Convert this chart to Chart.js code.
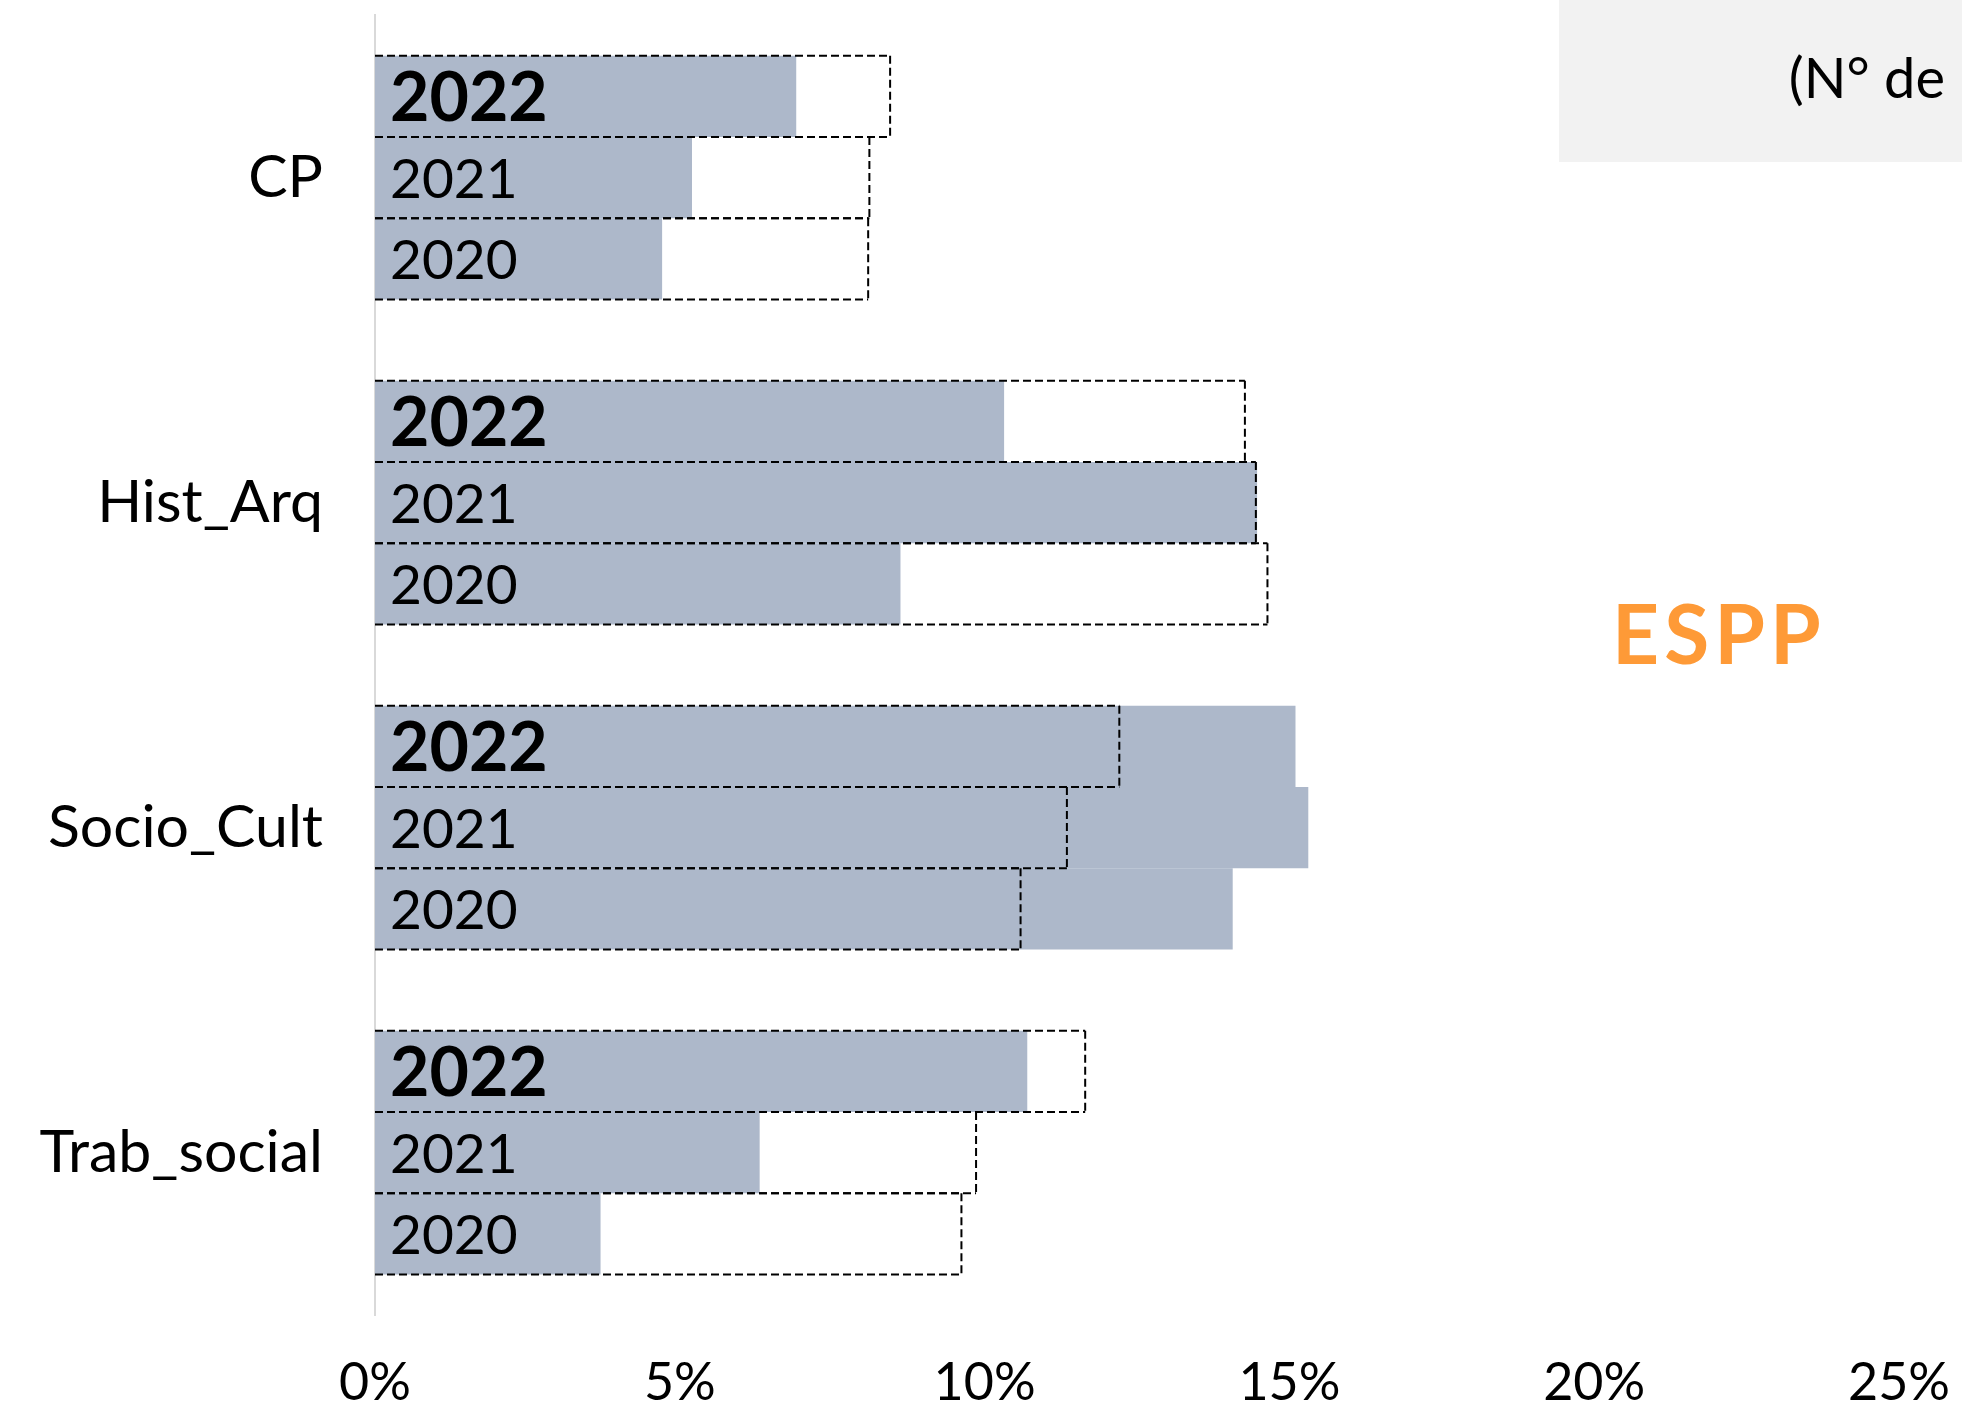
<!DOCTYPE html>
<html>
<head>
<meta charset="utf-8">
<title>ESPP</title>
<script src="https://cdn.jsdelivr.net/npm/chart.js@4/dist/chart.umd.min.js"></script>
<style>
  html, body { margin: 0; padding: 0; background: #fff; }
  canvas { display: block; }
</style>
</head>
<body>
<canvas id="canvas" width="1962" height="1408"></canvas>
<script>
// cursos e anos
var categorias = ['CP', 'Hist_Arq', 'Socio_Cult', 'Trab_social'];
var anos = ['2022', '2021', '2020'];

// ESPP (%) - barras cheias
var espp2022 = [6.91, 10.32, 15.10, 10.70];
var espp2021 = [5.20, 14.47, 15.31, 6.31];
var espp2020 = [4.71, 8.62, 14.07, 3.70];

// referencia (%) - contorno tracejado
var ref2022 = [8.45, 14.27, 12.21, 11.65];
var ref2021 = [8.11, 14.45, 11.35, 9.86];
var ref2020 = [8.09, 14.64, 10.59, 9.62];

var xTicks = [0, 5, 10, 15, 20, 25];

var corBarra = '#adb8ca';
var fonte = 'Lato';

var cheias = [espp2022, espp2021, espp2020];
var refs = [ref2022, ref2021, ref2020];

var datasets = anos.map(function(ano, i) {
    return {
        label: ano,
        data: cheias[i],
        referencia: refs[i],
        backgroundColor: corBarra,
        borderWidth: 0,
        categoryPercentage: 0.75,
        barPercentage: 1.0
    };
});

function linha(ctx, x1, y1, x2, y2) {
    ctx.beginPath();
    ctx.moveTo(x1, y1);
    ctx.lineTo(x2, y2);
    ctx.stroke();
}

// caixa cinza, titulo ESPP, contornos tracejados e anos dentro das barras
var extras = {
    id: 'extras',
    beforeDraw: function(chart) {
        var ctx = chart.ctx;
        ctx.save();
        ctx.fillStyle = '#f2f2f2';
        ctx.fillRect(1559, 0, 403, 162);
        ctx.fillStyle = '#000';
        ctx.font = '56px ' + fonte;
        ctx.textAlign = 'right';
        ctx.textBaseline = 'alphabetic';
        ctx.fillText('(N\u00b0 de', 1945, 98);
        ctx.restore();
    },
    afterDatasetsDraw: function(chart) {
        var ctx = chart.ctx;
        var xScale = chart.scales.x;
        ctx.save();

        // contorno da referencia: mesma faixa da barra, comprimento pelo valor de referencia
        ctx.setLineDash([8, 4]);
        ctx.lineWidth = 2;
        ctx.strokeStyle = '#000';
        chart.data.datasets.forEach(function(ds, i) {
            var meta = chart.getDatasetMeta(i);
            if (meta.hidden) return;
            meta.data.forEach(function(bar, j) {
                var p = bar.getProps(['y', 'base', 'height'], true);
                var fim = xScale.getPixelForValue(ds.referencia[j]);
                var top = p.y - p.height / 2;
                var bottom = p.y + p.height / 2;
                // todas as horizontais a partir do eixo, para o tracejado coincidir
                linha(ctx, p.base, top, fim, top);
                linha(ctx, p.base, bottom, fim, bottom);
                linha(ctx, fim, top, fim, bottom);
            });
        });

        ctx.setLineDash([]);
        ctx.fillStyle = '#000';
        ctx.textAlign = 'left';
        ctx.textBaseline = 'middle';
        chart.data.datasets.forEach(function(ds, i) {
            var meta = chart.getDatasetMeta(i);
            if (meta.hidden) return;
            var negrito = ds.label === '2022';
            ctx.font = negrito ? 'bold 68px ' + fonte : '55px ' + fonte;
            meta.data.forEach(function(bar) {
                var p = bar.getProps(['y', 'base'], true);
                ctx.fillText(ds.label, p.base + 15, p.y + 3);
            });
        });

        ctx.restore();
    },
    afterDraw: function(chart) {
        var ctx = chart.ctx;
        ctx.save();
        ctx.fillStyle = '#fe9a37';
        ctx.font = 'bold 82px ' + fonte;
        ctx.letterSpacing = '5px';
        ctx.textAlign = 'left';
        ctx.textBaseline = 'alphabetic';
        ctx.fillText('ESPP', 1612, 664);
        ctx.restore();
    }
};

var ctx = document.getElementById('canvas').getContext('2d');
window.grafico = new Chart(ctx, {
    type: 'bar',
    data: {
        labels: categorias,
        datasets: datasets
    },
    plugins: [extras],
    options: {
        indexAxis: 'y',
        responsive: false,
        devicePixelRatio: 1,
        animation: false,
        layout: {
            padding: { top: 15, right: 63, bottom: 0, left: 0 }
        },
        plugins: {
            legend: { display: false },
            tooltip: { enabled: false },
            title: { display: false }
        },
        scales: {
            x: {
                min: 0,
                max: 25,
                afterBuildTicks: function(scale) {
                    scale.ticks = xTicks.map(function(v) { return { value: v }; });
                },
                afterFit: function(scale) {
                    scale.height = 93;
                    scale.paddingRight = 0;
                },
                grid: { display: false, drawTicks: false },
                border: { display: false },
                ticks: {
                    padding: 37,
                    color: '#000',
                    font: { family: fonte, size: 52 },
                    callback: function(v) { return v + '%'; }
                }
            },
            y: {
                afterFit: function(scale) {
                    scale.width = 375;
                    scale.paddingTop = 0;
                    scale.paddingBottom = 0;
                },
                grid: { display: false, drawTicks: false },
                border: { display: true, color: '#d9d9d9', width: 2 },
                ticks: {
                    padding: 52,
                    color: '#000',
                    font: { family: fonte, size: 59 }
                }
            }
        }
    }
});
</script>
</body>
</html>
